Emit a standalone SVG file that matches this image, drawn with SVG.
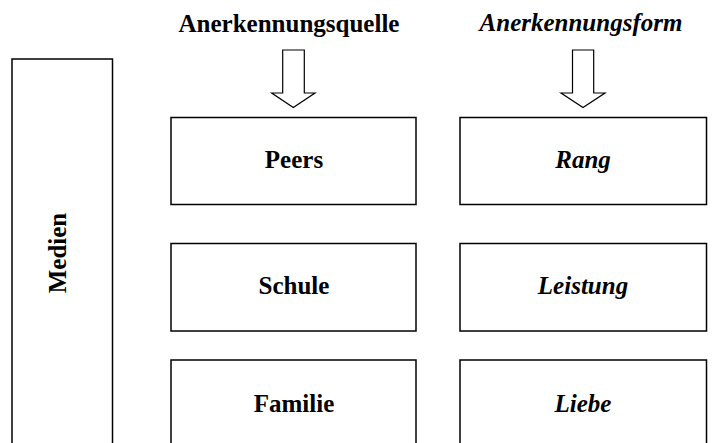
<svg xmlns="http://www.w3.org/2000/svg" width="713" height="443" viewBox="0 0 713 443">
<style>
  .box { fill: #fff; stroke: #000; stroke-width: 1.5; }
  .arrow { fill: #fff; stroke: #000; stroke-width: 1.2; stroke-linejoin: miter; }
  .t { font-family: "Liberation Serif", "Times New Roman", serif; font-size: 25px; font-weight: bold; text-anchor: middle; fill: #000; }
  .i { font-style: italic; }
</style>
<rect width="713" height="443" fill="#fff"/>
<g id="header-quelle"><text class="t" x="289" y="32">Anerkennungsquelle</text></g>
<g id="header-form"><text class="t i" x="581" y="31">Anerkennungsform</text></g>
<g id="medien">
  <rect class="box" x="12" y="59" width="100.5" height="400"/>
  <text class="t" transform="translate(66,253) rotate(-90)">Medien</text>
</g>
<g id="connectors">
  <path class="arrow" d="M282.7,50 H304.3 V93 H315 L293.3,107.5 L271.7,93 H282.7 Z"/>
  <path class="arrow" d="M572.5,50 H593.7 V93 H605 L583,107.5 L561,93 H572.5 Z"/>
</g>
<g id="peers"><rect class="box" x="171" y="117.5" width="245" height="87"/><text class="t" x="294" y="168">Peers</text></g>
<g id="schule"><rect class="box" x="171" y="243.5" width="245" height="87.5"/><text class="t" x="294" y="293.5">Schule</text></g>
<g id="familie"><rect class="box" x="171" y="360" width="245" height="100"/><text class="t" x="294" y="412">Familie</text></g>
<g id="rang"><rect class="box" x="460" y="117.5" width="246.5" height="87"/><text class="t i" x="583" y="168">Rang</text></g>
<g id="leistung"><rect class="box" x="460" y="243.5" width="246.5" height="87.5"/><text class="t i" x="583" y="293.5">Leistung</text></g>
<g id="liebe"><rect class="box" x="460" y="360" width="246.5" height="100"/><text class="t i" x="583" y="412">Liebe</text></g>
</svg>
